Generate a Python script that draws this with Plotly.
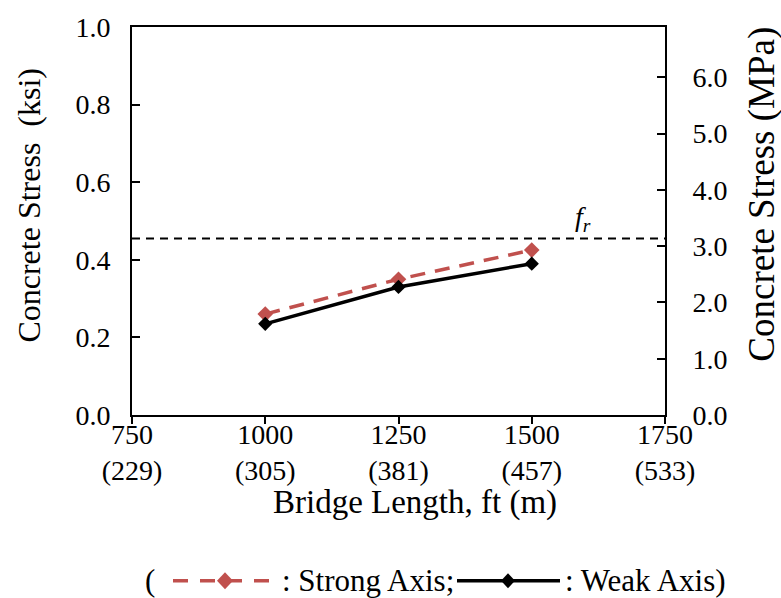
import plotly.graph_objects as go

# Bridge length (ft) and the metric labels shown under each tick
lengths_ft = [1000, 1250, 1500]
tick_ft = [750, 1000, 1250, 1500, 1750]
tick_m = [229, 305, 381, 457, 533]

# Peak concrete stress (ksi)
strong_axis = [0.26, 0.35, 0.425]
weak_axis = [0.235, 0.33, 0.39]

# Modulus of rupture (ksi)
fr_ksi = 0.455
KSI_TO_MPA = 6.895

RED = "#C0504D"
FONT = "Liberation Serif"

# Plot-area geometry in pixels (used to place the key below the axes)
W, H = 781, 598
L, R, T, B = 132, 116, 24, 183
PW, PH = W - L - R, H - T - B


def px(x):
    return (x - L) / PW


def py(y):
    return (H - B - y) / PH


fig = go.Figure()

fig.add_trace(go.Scatter(
    x=lengths_ft, y=strong_axis, mode="lines+markers", name="Strong Axis",
    line=dict(color=RED, width=3.5, dash="15px,10px"),
    marker=dict(symbol="diamond", size=12, color=RED),
))
fig.add_trace(go.Scatter(
    x=lengths_ft, y=weak_axis, mode="lines+markers", name="Weak Axis",
    line=dict(color="black", width=3.5),
    marker=dict(symbol="diamond", size=11, color="black"),
))
# invisible trace to activate the MPa axis
fig.add_trace(go.Scatter(x=[tick_ft[0]], y=[0], yaxis="y2", mode="markers",
                         marker=dict(opacity=0), showlegend=False, hoverinfo="skip"))

# cracking limit line
fig.add_shape(type="line", xref="paper", x0=0, x1=1, yref="y", y0=fr_ksi, y1=fr_ksi,
              line=dict(color="black", width=2, dash="8px,6px"))
fig.add_annotation(x=1597, y=fr_ksi, xref="x", yref="y", yanchor="bottom", yshift=0,
                   text="<i>f</i><sub><i>r</i></sub>", showarrow=False,
                   font=dict(family=FONT, size=28, color="black"))

tick_text = [f"{a}<br>({b})" for a, b in zip(tick_ft, tick_m)]
TICKF = dict(family=FONT, size=28, color="black")

fig.update_layout(
    width=W, height=H,
    margin=dict(l=L, r=R, t=T, b=B),
    paper_bgcolor="white", plot_bgcolor="white",
    font=dict(family=FONT, size=28, color="black"),
    showlegend=False,
    xaxis=dict(range=[750, 1750], tickvals=tick_ft, ticktext=tick_text,
               showline=True, linecolor="black", linewidth=2, mirror=True,
               ticks="outside", ticklen=7, tickwidth=2, tickcolor="black",
               ticklabelstandoff=-14,
               showgrid=False, zeroline=False, tickfont=TICKF),
    yaxis=dict(range=[0, 1.0], tickvals=[0, 0.2, 0.4, 0.6, 0.8, 1.0], tickformat=".1f",
               showline=True, linecolor="black", linewidth=2,
               ticks="inside", ticklen=8, tickwidth=2, tickcolor="black",
               ticklabelstandoff=14,
               showgrid=False, zeroline=False, tickfont=TICKF),
    yaxis2=dict(range=[0, 1.0 * KSI_TO_MPA], tickvals=[0, 1, 2, 3, 4, 5, 6], tickformat=".1f",
                overlaying="y", side="right",
                showline=True, linecolor="black", linewidth=2,
                ticks="inside", ticklen=8, tickwidth=2, tickcolor="black",
                ticklabelstandoff=20,
                showgrid=False, zeroline=False, tickfont=TICKF),
)

# axis titles
fig.add_annotation(text="Bridge Length, ft (m)", xref="paper", yref="paper",
                   x=px(415), y=py(503), xanchor="center", yanchor="middle",
                   showarrow=False, font=dict(family=FONT, size=33, color="black"))
fig.add_annotation(text="Concrete Stress&nbsp;&nbsp;(ksi)", xref="paper", yref="paper",
                   x=px(29), y=py(204), xanchor="center", yanchor="middle",
                   textangle=-90, showarrow=False, font=dict(family=FONT, size=32, color="black"))
fig.add_annotation(text="Concrete Stress (MPa)", xref="paper", yref="paper",
                   x=px(762), y=py(193), xanchor="center", yanchor="middle",
                   textangle=-90, showarrow=False, font=dict(family=FONT, size=37, color="black"))

# key below the chart
ky = 582
KF = dict(family=FONT, size=31, color="black")


def diamond(cx, cy, hw, hh, color):
    x0, x1, x2 = px(cx - hw), px(cx), px(cx + hw)
    y0, y1, y2 = py(cy + hh), py(cy), py(cy - hh)
    fig.add_shape(type="path", xref="paper", yref="paper",
                  path=f"M {x0},{y1} L {x1},{y2} L {x2},{y1} L {x1},{y0} Z",
                  fillcolor=color, line=dict(width=0))


fig.add_shape(type="line", xref="paper", yref="paper", x0=px(173), x1=px(272), y0=py(ky), y1=py(ky),
              line=dict(color=RED, width=3.5, dash="15px,12px"))
diamond(225, ky, 8, 8.5, RED)
fig.add_shape(type="line", xref="paper", yref="paper", x0=px(457), x1=px(560), y0=py(ky), y1=py(ky),
              line=dict(color="black", width=3.5))
diamond(508, ky, 7, 7.5, "black")

fig.add_annotation(text="(", xref="paper", yref="paper", x=px(143), y=py(ky),
                   xanchor="left", yanchor="middle", showarrow=False, font=KF)
fig.add_annotation(text=": Strong Axis;", xref="paper", yref="paper", x=px(280), y=py(ky),
                   xanchor="left", yanchor="middle", showarrow=False, font=KF)
fig.add_annotation(text=": Weak Axis)", xref="paper", yref="paper", x=px(563), y=py(ky),
                   xanchor="left", yanchor="middle", showarrow=False, font=KF)

fig.write_html("out.html")
